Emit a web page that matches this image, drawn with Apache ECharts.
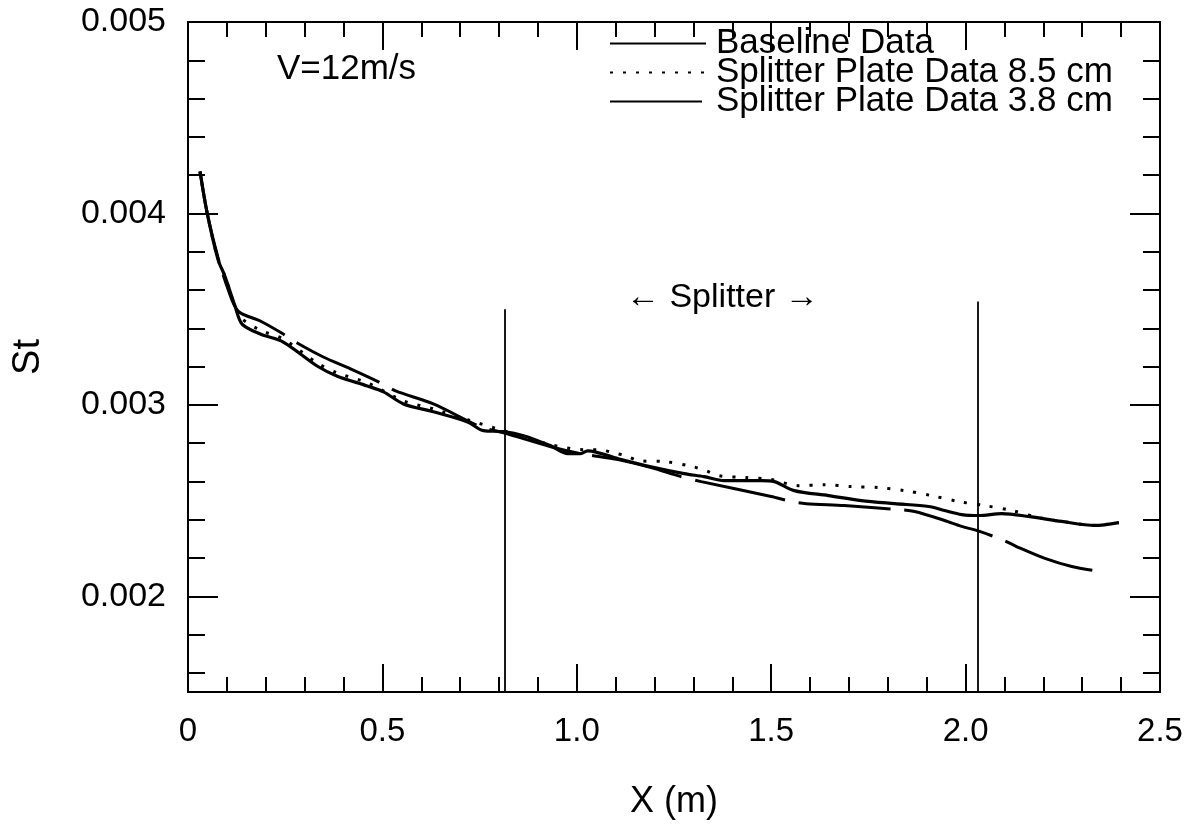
<!DOCTYPE html>
<html>
<head>
<meta charset="utf-8">
<script src="https://cdn.jsdelivr.net/npm/echarts@6/dist/echarts.min.js"></script>
<style>
html,body{margin:0;padding:0;background:#fff;}
#chart{width:1196px;height:825px;}
</style>
</head>
<body>
<div id="chart"></div>
<script>
// ---- data (X in m, St) ----
const baselineX = [0.031,0.049,0.077,0.095,0.121,0.139,0.186,0.245,0.332,0.384,0.461,0.503,0.554,0.631,0.719,0.760,0.812,0.863,0.933,0.977,1.010,1.028,1.106,1.191,1.276,1.327,1.379,1.474,1.508,1.559,1.647,1.732,1.817,1.905,1.946,1.990,2.034,2.093,2.162,2.247,2.332,2.394];
const baselineSt = [0.004219,0.004005,0.00376,0.003672,0.003516,0.003422,0.00337,0.003328,0.003203,0.00315,0.003099,0.003068,0.003005,0.002964,0.002911,0.002865,0.00286,0.002839,0.002786,0.002745,0.002745,0.00276,0.002719,0.002677,0.002641,0.002625,0.002604,0.002604,0.002599,0.002552,0.002526,0.0025,0.002484,0.002469,0.002448,0.002427,0.002422,0.002432,0.002417,0.002391,0.00237,0.002385];

const plate85X = [0.031,0.049,0.077,0.095,0.121,0.134,0.186,0.245,0.332,0.384,0.461,0.554,0.631,0.719,0.812,0.933,1.018,1.057,1.093,1.126,1.160,1.229,1.299,1.332,1.366,1.436,1.500,1.570,1.637,1.706,1.776,1.843,1.912,1.982,2.049,2.119,2.188,2.247,2.332,2.394];
const plate85St = [0.004219,0.004005,0.00376,0.003672,0.003516,0.003458,0.00339,0.003344,0.003219,0.003167,0.003115,0.003021,0.002979,0.002922,0.002865,0.002792,0.002766,0.002766,0.00275,0.002734,0.002708,0.002703,0.002677,0.002656,0.00263,0.00262,0.00261,0.002578,0.002583,0.002573,0.002568,0.002552,0.002526,0.002495,0.002474,0.002448,0.002411,0.002391,0.00237,0.002385];

const plate38X = [0.031,0.049,0.077,0.103,0.129,0.186,0.245,0.281,0.348,0.418,0.490,0.534,0.631,0.753,0.812,0.933,1.010,1.106,1.191,1.268,1.320,1.500,1.552,1.590,1.688,1.827,1.869,1.946,1.990,2.036,2.098,2.131,2.204,2.273,2.358];
const plate38St = [0.004219,0.004005,0.003771,0.003604,0.00349,0.003438,0.00337,0.003323,0.00325,0.003188,0.00312,0.003073,0.003005,0.002885,0.002854,0.002781,0.002745,0.002714,0.002672,0.002625,0.002599,0.002521,0.002495,0.002484,0.002474,0.002453,0.002443,0.002396,0.002365,0.002339,0.002292,0.00226,0.002198,0.002156,0.002125];

const seriesNames = ['Baseline Data','Splitter Plate Data 8.5 cm','Splitter Plate Data 3.8 cm'];

// splitter positions
const splitterX = [0.815, 2.03];
const splitterTop = [0.0035, 0.00354];

// axis ticks
const xMin = 0, xMax = 2.5, xInterval = 0.5;
const yMin = 0.0015, yMax = 0.005;
const yMajorTicks = [0.002,0.003,0.004,0.005];
const yMinorTicks = [0.0016,0.0018,0.0022,0.0024,0.0026,0.0028,0.0032,0.0034,0.0036,0.0038,0.0042,0.0044,0.0046,0.0048];

const zip = (xs, ys) => xs.map((x,i)=>[x, ys[i]]);

const FONT = '"Liberation Sans", Arial, Helvetica, sans-serif';
const chart = echarts.init(document.getElementById('chart'), null, {renderer:'canvas'});

const baseAxisLine = {show:true, lineStyle:{color:'#000', width:2}};
const xLabelFmt = v => (v===0 ? '0' : v.toFixed(1));
const tickStyle = {color:'#000', width:2};

const option = {
  backgroundColor:'#fff',
  animation:false,
  color:['#000','#000','#000'],
  grid:{left:188, right:36, top:22, bottom:132, containLabel:false},
  legend:{
    data: seriesNames,
    orient:'vertical',
    left:604, top:21,
    itemWidth:96, itemHeight:20, itemGap:-6,
    itemStyle:{opacity:0},
    textStyle:{fontFamily:FONT, fontSize:35, color:'#000', padding:[0,0,0,5]},
    selectedMode:false
  },
  xAxis:[
    {type:'value', position:'bottom', min:xMin, max:xMax, interval:xInterval,
     name:'X (m)', nameLocation:'middle', nameGap:92,
     nameTextStyle:{fontFamily:FONT, fontSize:36, color:'#000'},
     axisLine:baseAxisLine,
     axisTick:{show:true, inside:true, length:28, lineStyle:tickStyle},
     minorTick:{show:true, splitNumber:5, length:15, lineStyle:tickStyle},
     axisLabel:{show:true, margin:23, fontFamily:FONT, fontSize:33, color:'#000', formatter:xLabelFmt},
     splitLine:{show:false}, minorSplitLine:{show:false}},
    {type:'value', position:'top', min:xMin, max:xMax, interval:xInterval,
     axisLine:baseAxisLine,
     axisTick:{show:true, inside:true, length:28, lineStyle:tickStyle},
     minorTick:{show:true, splitNumber:5, length:15, lineStyle:tickStyle},
     axisLabel:{show:false}, splitLine:{show:false}, minorSplitLine:{show:false}}
  ],
  yAxis:[
    {type:'value', position:'left', min:yMin, max:yMax,
     name:'St', nameLocation:'middle', nameGap:140, nameRotate:90,
     nameTextStyle:{fontFamily:FONT, fontSize:38, color:'#000'},
     axisLine:baseAxisLine,
     axisTick:{show:true, inside:true, length:30, customValues:yMajorTicks, lineStyle:tickStyle},
     axisLabel:{show:true, margin:22, customValues:yMajorTicks, fontFamily:FONT, fontSize:34, color:'#000', formatter:v=>v.toFixed(3)},
     splitLine:{show:false}},
    {type:'value', position:'left', min:yMin, max:yMax,
     axisLine:{show:false},
     axisTick:{show:true, inside:true, length:17, customValues:yMinorTicks, lineStyle:tickStyle},
     axisLabel:{show:false}, splitLine:{show:false}},
    {type:'value', position:'right', min:yMin, max:yMax,
     axisLine:baseAxisLine,
     axisTick:{show:true, inside:true, length:30, customValues:yMajorTicks, lineStyle:tickStyle},
     axisLabel:{show:false}, splitLine:{show:false}},
    {type:'value', position:'right', min:yMin, max:yMax,
     axisLine:{show:false},
     axisTick:{show:true, inside:true, length:17, customValues:yMinorTicks, lineStyle:tickStyle},
     axisLabel:{show:false}, splitLine:{show:false}}
  ],
  series:[
    {name:seriesNames[0], type:'line', xAxisIndex:0, yAxisIndex:0, data:zip(baselineX, baselineSt),
     showSymbol:false, symbol:'none', smooth:0.3, z:5,
     itemStyle:{color:'#000'},
     lineStyle:{color:'#000', width:3.2, type:'solid'},
     markLine:{silent:true, symbol:'none', label:{show:false},
       lineStyle:{color:'#000', width:1.8, type:'solid'},
       data: splitterX.map((x,i)=>[{coord:[x, yMin]},{coord:[x, splitterTop[i]]}])}},
    {name:seriesNames[1], type:'line', xAxisIndex:0, yAxisIndex:0, data:zip(plate85X, plate85St),
     showSymbol:false, symbol:'none', smooth:0.3, z:4,
     itemStyle:{color:'#000'},
     lineStyle:{color:'#000', width:3, type:[3,10], cap:'butt'}},
    {name:seriesNames[2], type:'line', xAxisIndex:0, yAxisIndex:0, data:zip(plate38X, plate38St),
     showSymbol:false, symbol:'none', smooth:0.3, z:4,
     itemStyle:{color:'#000'},
     lineStyle:{color:'#000', width:3, type:[92,14], cap:'butt'}}
  ],
  graphic:[
    {type:'text', left:277, top:52, style:{text:'V=12m/s', fontFamily:FONT, fontSize:35, fill:'#000'}},
    {type:'text', left:626, top:281, style:{text:'\u2190 Splitter \u2192', fontFamily:FONT, fontSize:34, fill:'#000'}}
  ]
};
chart.setOption(option);
</script>
</body>
</html>
